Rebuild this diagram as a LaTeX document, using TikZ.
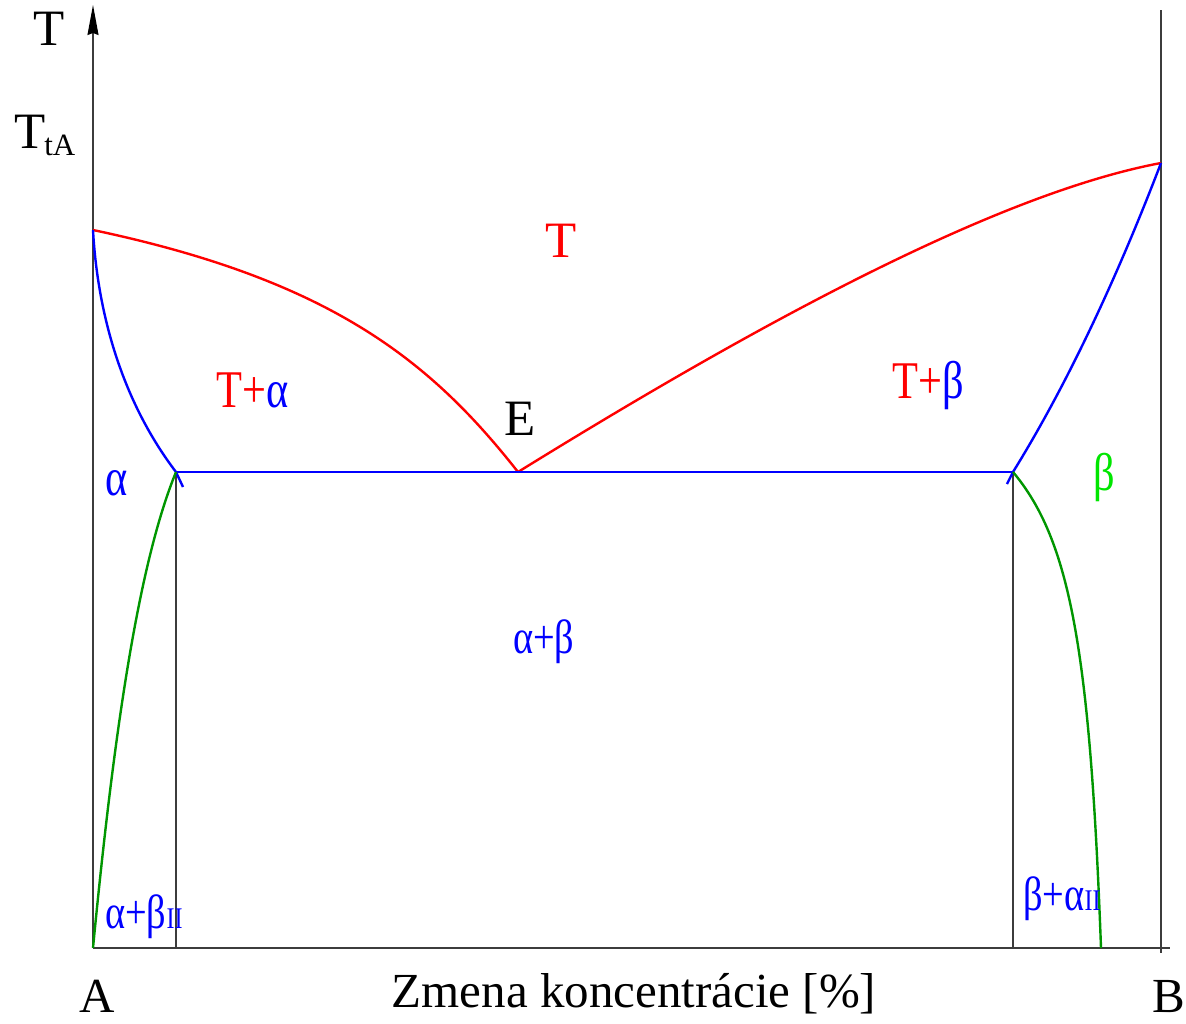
\documentclass[tikz,border=0pt]{standalone}
\usepackage{fontspec}
\usepackage{graphicx}
\setmainfont{Liberation Serif}
\usetikzlibrary{arrows.meta}
\definecolor{myblue}{RGB}{0,0,255}
\definecolor{myred}{RGB}{255,0,0}
\definecolor{mygreen}{RGB}{0,150,0}
\definecolor{mylime}{RGB}{0,230,0}
\definecolor{axisgray}{RGB}{60,60,60}
\newcommand{\cnd}[1]{\scalebox{0.8}[1]{#1}}
\begin{document}
\begin{tikzpicture}[x=1pt,y=-1pt,
  axisline/.style={draw=axisgray,line width=1.3pt},
  thinline/.style={draw=axisgray,line width=1.1pt},
  redline/.style={draw=myred,line width=2.4pt},
  blueline/.style={draw=myblue,line width=2.4pt},
  greenline/.style={draw=mygreen,line width=2.4pt},
  big/.style={font=\fontsize{51}{55}\selectfont,inner sep=0pt},
  axlabel/.style={font=\fontsize{49}{53}\selectfont,inner sep=0pt},
  lab/.style={font=\fontsize{53}{57}\selectfont,inner sep=0pt,anchor=base west},
  small/.style={font=\fontsize{48}{52}\selectfont,inner sep=0pt,anchor=base west}]
\useasboundingbox (0,0) rectangle (1186,1023);
% key points
\coordinate (O) at (93,948);
\coordinate (Ytop) at (93,5);
\coordinate (Xend) at (1170,948);
\coordinate (Rtop) at (1161,10);
\coordinate (Rbot) at (1161,953);
\coordinate (TA) at (93,230);
\coordinate (TB) at (1161,163);
\coordinate (E) at (518,472);
\coordinate (L) at (176,472);
\coordinate (R) at (1013,472);
\coordinate (Lb) at (176,948);
\coordinate (Rb) at (1013,948);
\coordinate (Gr) at (1101,948);
\coordinate (Lx) at (183,487);
\coordinate (Rx) at (1007,484);
% axes
\draw[axisline,-{Stealth[length=30pt,width=11pt,inset=2pt,black]}] (O) -- (Ytop);
\draw[axisline] (O) -- (Xend);
\draw[axisline] (Rtop) -- (Rbot);
\draw[thinline] (L) -- (Lb);
\draw[thinline] (R) -- (Rb);
% liquidus
\draw[redline] (TA) .. controls (330,280) and (430,360) .. (E);
\draw[redline] (E) .. controls (738,336) and (990,195) .. (TB);
% solidus
\draw[blueline] (TA) .. controls (98,320) and (125,405) .. (L) -- (Lx);
\draw[blueline] (TB) .. controls (1120,270) and (1070,380) .. (R) -- (Rx);
\draw[blueline] (L) -- (R);
% solvus
\draw[greenline] (O) .. controls (115,720) and (140,560) .. (L);
\draw[greenline] (R) .. controls (1070,540) and (1090,650) .. (Gr);
% labels
\node[big,anchor=base west] (lT) at (33,45) {T};
\node[big,anchor=base west] (lTtA) at (14,148) {T\kern-1pt\raisebox{-0.14em}{\fontsize{31}{33}\selectfont tA}};
\node[axlabel,anchor=base west] (lA) at (79,1012) {A};
\node[axlabel,anchor=base east] (lB) at (1185,1012) {B};
\node[axlabel,anchor=base] (lX) at (634,1007) {Zmena koncentrácie [\%]};
\node[big,anchor=base west,text=myred] (lTl) at (545,257) {T};
\node[big,anchor=base west] (lE) at (504,435) {E};
\node[lab] (lTa) at (216,407) {\cnd{\textcolor{myred}{T+}\textcolor{myblue}{α}}};
\node[lab] (lTb) at (892,398) {\cnd{\textcolor{myred}{T+}\textcolor{myblue}{β}}};
\node[lab,text=myblue] (la) at (105,495) {\cnd{α}};
\node[lab,text=mylime] (lb) at (1093,490) {\cnd{β}};
\node[small,text=myblue] (lab) at (513,653) {\cnd{α+β}};
\node[small,text=myblue] (labII) at (105,928) {\cnd{α+β\fontsize{30}{32}\selectfont II}};
\node[small,text=myblue] (lbaII) at (1023,910) {\cnd{β+α\fontsize{30}{32}\selectfont II}};
\end{tikzpicture}
\end{document}
